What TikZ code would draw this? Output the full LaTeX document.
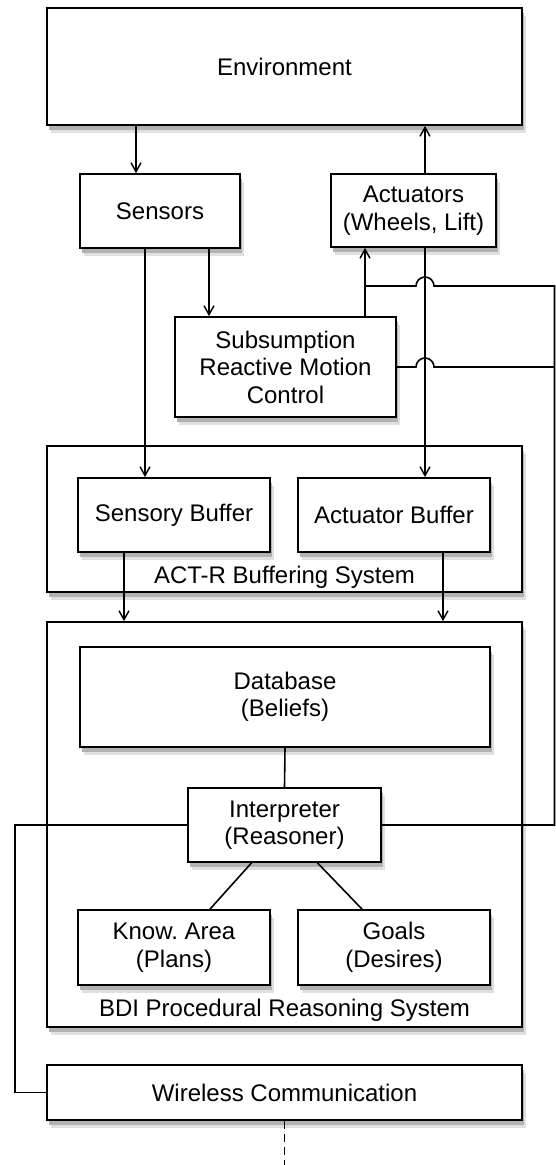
\documentclass[tikz,border=0pt]{standalone}
\usepackage{fontspec}
\setmainfont{Liberation Sans}
\usetikzlibrary{arrows.meta,calc}
\tikzset{
  box/.style={draw,line width=1.8pt,fill=white,align=center,inner sep=0pt},
  shade1/.style={fill=black!12},
  shade2/.style={fill=black!30},
  arr/.style={line width=1.6pt,-{Straight Barb[length=9pt,width=10pt,line width=1.4pt]}},
  wire/.style={line width=1.6pt}
}
% block with a soft shadow: name, centre, width, height, text
\newcommand\block[5]{%
  \fill[shade1] (#2) ++(-#3/2+4,-#4/2+8) rectangle ++(#3,#4);
  \fill[shade2] (#2) ++(-#3/2+2,-#4/2+5) rectangle ++(#3,#4);
  \node[box,minimum width=#3,minimum height=#4] (#1) at (#2) {#5};}
\frenchspacing
\begin{document}
\begin{tikzpicture}[x=1pt,y=-1pt,font=\fontsize{24}{27.5}\selectfont]
  \useasboundingbox (0,0) rectangle (556,1165);
  % top part
  \block{env}{284.5,66.5}{475}{117}{Environment}
  \block{sens}{160,211}{160}{74}{Sensors}
  \block{act}{413.5,210.5}{165}{73}{Actuators\\(Wheels, Lift)}
  \block{subs}{285.5,367}{221}{100}{Subsumption\\Reactive Motion\\Control}
  % buffers
  \block{actr}{284.5,519}{475}{146}{}
  \block{sbuf}{174,515}{192}{74}{Sensory Buffer}
  \block{abuf}{394,515}{192}{74}{Actuator Buffer}
  \node (actrlbl) at (284.5,577) {ACT-R Buffering System};
  % reasoning system
  \block{bdi}{284.5,824.5}{475}{405}{}
  \block{db}{285,697}{410}{100}{Database\\(Beliefs)}
  \block{interp}{284.5,825}{193}{74}{Interpreter\\(Reasoner)}
  \block{know}{174,947.5}{192}{75}{Know. Area\\(Plans)}
  \block{goals}{394,947.5}{192}{75}{Goals\\(Desires)}
  \node (bdilbl) at (284.5,1010) {BDI Procedural Reasoning System};
  \block{wl}{284.5,1092.5}{475}{55}{Wireless Communication}
  % columns and rows of the wires
  \coordinate (c1) at (136,0);
  \coordinate (c2) at (209,0);
  \coordinate (c3) at (145,0);
  \coordinate (c4) at (365,0);
  \coordinate (c5) at (425,0);
  \coordinate (c6) at (124,0);
  \coordinate (c7) at (443,0);
  \coordinate (c8) at (554.5,0);
  \coordinate (c9) at (15,0);
  \coordinate (r1) at (0,286);
  \coordinate (tail) at (0,1165);
  % arrows
  \draw[arr](env.south-|c1)--(sens.north-|c1);
  \draw[arr](act.north-|c5)--(env.south-|c5);
  \draw[arr](sens.south-|c2)--(subs.north-|c2);
  \draw[arr](sens.south-|c3)--(sbuf.north-|c3);
  \draw[arr](subs.north-|c4)--(act.south-|c4);
  \draw[arr](act.south-|c5)--(abuf.north-|c5);
  \draw[arr](sbuf.south-|c6)--(bdi.north-|c6);
  \draw[arr](abuf.south-|c7)--(bdi.north-|c7);
  % wires
  \draw[wire](c4|-r1)--($(c5|-r1)+(-9,0)$) arc[start angle=180,end angle=0,radius=9pt]
    --(c8|-r1)--(c8|-interp.east)--(interp.east);
  \draw[wire](subs.east)--($(c5|-subs.east)+(-9,0)$) arc[start angle=180,end angle=0,radius=9pt]
    --(c8|-subs.east);
  \draw[wire](interp.west)--(c9|-interp.west)--(c9|-wl.west)--(wl.west);
  \draw[wire](db.south)--(interp.north);
  \draw[wire]($(interp.south)+(-33,0)$)--($(know.north)+(36,0)$);
  \draw[wire]($(interp.south)+(33,0)$)--($(goals.north)+(-32,0)$);
  \draw[wire,dashed,dash pattern=on 8pt off 5pt](wl.south)--(wl.south|-tail);
\end{tikzpicture}
\end{document}
